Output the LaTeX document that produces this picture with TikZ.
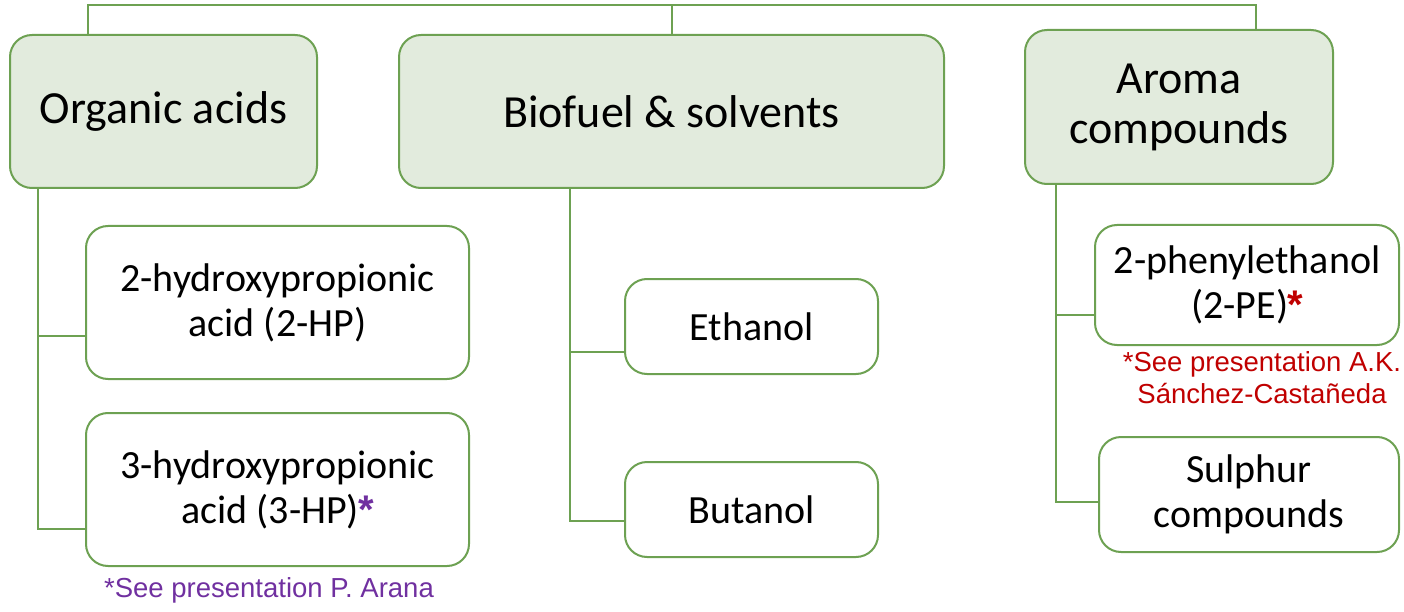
\documentclass[tikz,border=0pt]{standalone}
\usepackage{fontspec}
\setmainfont{Carlito}
\newfontfamily\arialf{Liberation Sans}
\definecolor{gline}{HTML}{6DA152}
\definecolor{gfill}{HTML}{E2EBDD}
\definecolor{fnpurple}{HTML}{7030A0}
\definecolor{fnred}{HTML}{C00000}
\newcommand{\mystar}[1]{\textcolor{#1}{\kern-1pt{\arialf\bfseries *}}}
\tikzset{
  topbox/.style={draw=gline, line width=2pt, fill=gfill, rounded corners=22pt, align=center, inner sep=0pt, font=\fontsize{46}{50}\selectfont},
  subbox/.style={draw=gline, line width=2pt, fill=white, rounded corners=22pt, align=center, inner sep=0pt, font=\fontsize{40}{45}\selectfont},
  conn/.style={draw=gline, line width=2pt},
  fnote/.style={align=center, inner sep=0pt, font=\arialf\fontsize{27.5}{32}\selectfont}
}
\begin{document}
\begin{tikzpicture}[x=1pt,y=-1pt]
\useasboundingbox (0,0) rectangle (1404,612);
% top boxes
\node[topbox, minimum width=307pt, minimum height=153pt] (oa) at (163.5,111.5) {Organic acids};
\node[topbox, minimum width=545pt, minimum height=153pt] (bf) at (671.5,111.5) {Biofuel \& solvents};
\node[topbox, minimum width=308pt, minimum height=154pt] (ar) at (1179,107) {Aroma\\compounds};
% sub boxes
\node[subbox, minimum width=383pt, minimum height=153pt] (hp2) at (277.5,302.5) {2-hydroxypropionic\\acid (2-HP)};
\node[subbox, minimum width=383pt, minimum height=153pt] (hp3) at (277.5,489.5) {3-hydroxypropionic\\acid (3-HP)\mystar{fnpurple}};
\node[subbox, minimum width=253pt, minimum height=95pt] (eth) at (751.5,326.5) {Ethanol};
\node[subbox, minimum width=253pt, minimum height=95pt] (but) at (751.5,509.5) {Butanol};
\node[subbox, minimum width=304pt, minimum height=120pt] (pe) at (1247,285) {2-phenylethanol\\(2-PE)\mystar{fnred}};
\node[subbox, minimum width=300pt, minimum height=115pt] (sul) at (1249,494.5) {Sulphur\\compounds};
% footnotes
\node[fnote, text=fnpurple] (fn1) at (269,590) {*See presentation P. Arana};
\node[fnote, text=fnred] (fn2) at (1262,378) {*See presentation A.K.\\Sánchez-Castañeda};
% top connectors
\coordinate (topline) at (0,5);
\draw[conn] (oa.north -| 88,0) -- (topline -| 88,0) -- (topline -| 1256,0) -- (ar.north -| 1256,0);
\draw[conn] (bf.north) -- (bf.north |- topline);
% organic acids branches
\draw[conn] (oa.south -| 38,0) |- ([yshift=-39.5pt]hp3.west);
\draw[conn] ([yshift=-33.5pt]hp2.west) -| (oa.south -| 38,0);
% biofuel branches
\draw[conn] (bf.south -| 570,0) |- ([yshift=-11.5pt]but.west);
\draw[conn] ([yshift=-25.5pt]eth.west) -| (bf.south -| 570,0);
% aroma branches
\draw[conn] (ar.south -| 1056,0) |- ([yshift=-7.5pt]sul.west);
\draw[conn] ([yshift=-30pt]pe.west) -| (ar.south -| 1056,0);
\end{tikzpicture}
\end{document}
